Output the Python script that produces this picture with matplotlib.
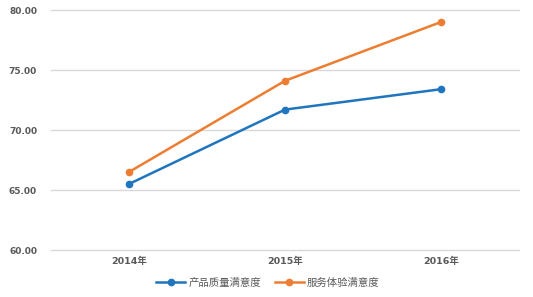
import matplotlib
matplotlib.use("Agg")
import matplotlib.pyplot as plt

plt.rcParams['font.family'] = ['Noto Sans CJK SC', 'DejaVu Sans']

years = ["2014年", "2015年", "2016年"]
quality = [65.5, 71.7, 73.4]
service = [66.5, 74.1, 79.0]
yticks = [60, 65, 70, 75, 80]

fig = plt.figure(figsize=(5.33, 2.97), dpi=100)
ax = fig.add_axes([51/533, 1-250/297, 468/533, 240/297])
x = range(len(years))
ax.plot(x, quality, color='#1F75BE', lw=1.8, marker='o', ms=4.5, label='产品质量满意度', zorder=3)
ax.plot(x, service, color='#ED7D31', lw=1.8, marker='o', ms=4.5, label='服务体验满意度', zorder=3)
ax.set_xlim(-0.5, 2.5)
ax.set_ylim(60, 80)
ax.set_yticks(yticks)
ax.set_yticklabels([f"{v:.2f}" for v in yticks], fontsize=6.5, color='#595959', fontweight='bold',
                   family=['DejaVu Sans'])
ax.set_xticks(list(x))
ax.set_xticklabels(years, fontsize=6.8, color='#595959', fontweight='bold',
                   family=['DejaVu Sans', 'Noto Sans CJK SC'])
ax.grid(axis='y', color='#D9D9D9', lw=1)
for gl in ax.get_ygridlines():
    gl.set_clip_on(False)
ax.set_axisbelow(True)
for s in ax.spines.values():
    s.set_visible(False)
ax.tick_params(axis='y', length=0, pad=10)
ax.tick_params(axis='x', length=0, pad=5)
leg = fig.legend(loc='center', bbox_to_anchor=(268/533, 1-283/297), ncol=2, frameon=False,
                 fontsize=7.5, handlelength=2.8, columnspacing=1.3, handletextpad=0.3)
for t in leg.get_texts():
    t.set_color('#595959')
fig.savefig('out.png', dpi=100)
